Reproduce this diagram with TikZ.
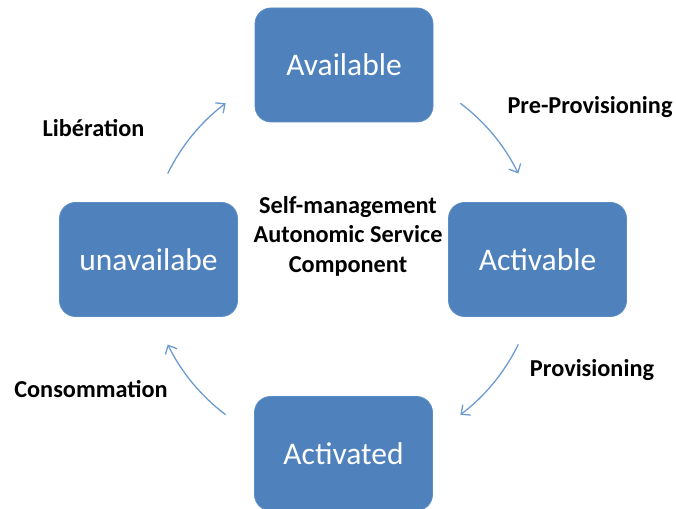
\documentclass[tikz,border=0pt]{standalone}
\usepackage{fontspec}
\setmainfont{Carlito}
\usetikzlibrary{arrows.meta,calc}
\definecolor{boxfill}{HTML}{4F81BD}
\definecolor{boxedge}{HTML}{5A8CC6}
\definecolor{arrowc}{HTML}{6C9BD2}
\tikzset{
  state/.style={draw=boxedge, line width=0.8pt, fill=boxfill, rounded corners=16pt,
    minimum width=178pt, minimum height=114pt, text=white,
    font=\fontsize{31.5}{37}\selectfont, inner sep=0pt},
  lbl/.style={text=black, font=\bfseries\fontsize{24.3}{29.5}\selectfont, inner sep=0pt},
  arr/.style={draw=arrowc, line width=1.3pt, -{Straight Barb[length=7pt,width=13pt,line width=1.3pt]}}
}
\begin{document}
\begin{tikzpicture}[x=1pt,y=1pt]
\useasboundingbox (0,0) rectangle (676,508);
\node[state] (avail) at (344,443) {Available};
\node[state] (activable) at (537.5,248.5) {Activable};
\node[state] (unavail) at (148.5,248.5) {unavailabe};
\node[state] (activated) at (343.5,54.5) {Activated};
\node[lbl, align=center] (center) at (348,272) {Self-management\\Autonomic Service\\Component};
\node[lbl] (lib) at (93.5,380) {Libération};
\node[lbl] (prep) at (590,401) {Pre-Provisioning};
\node[lbl] (prov) at (592,138) {Provisioning};
\node[lbl] (cons) at (91,119) {Consommation};
\coordinate (c) at (343,249);
\coordinate (a1) at ($(c)+(154:195)$);
\coordinate (a2) at ($(c)+(53:195)$);
\coordinate (a3) at ($(c)+(-26:195)$);
\coordinate (a4) at ($(c)+(-127:195)$);
\draw[arr] (a1) arc[start angle=154, end angle=127, radius=195];
\draw[arr] (a2) arc[start angle=53, end angle=26, radius=195];
\draw[arr] (a3) arc[start angle=-26, end angle=-53, radius=195];
\draw[arr] (a4) arc[start angle=-127, end angle=-154, radius=195];
\end{tikzpicture}
\end{document}
